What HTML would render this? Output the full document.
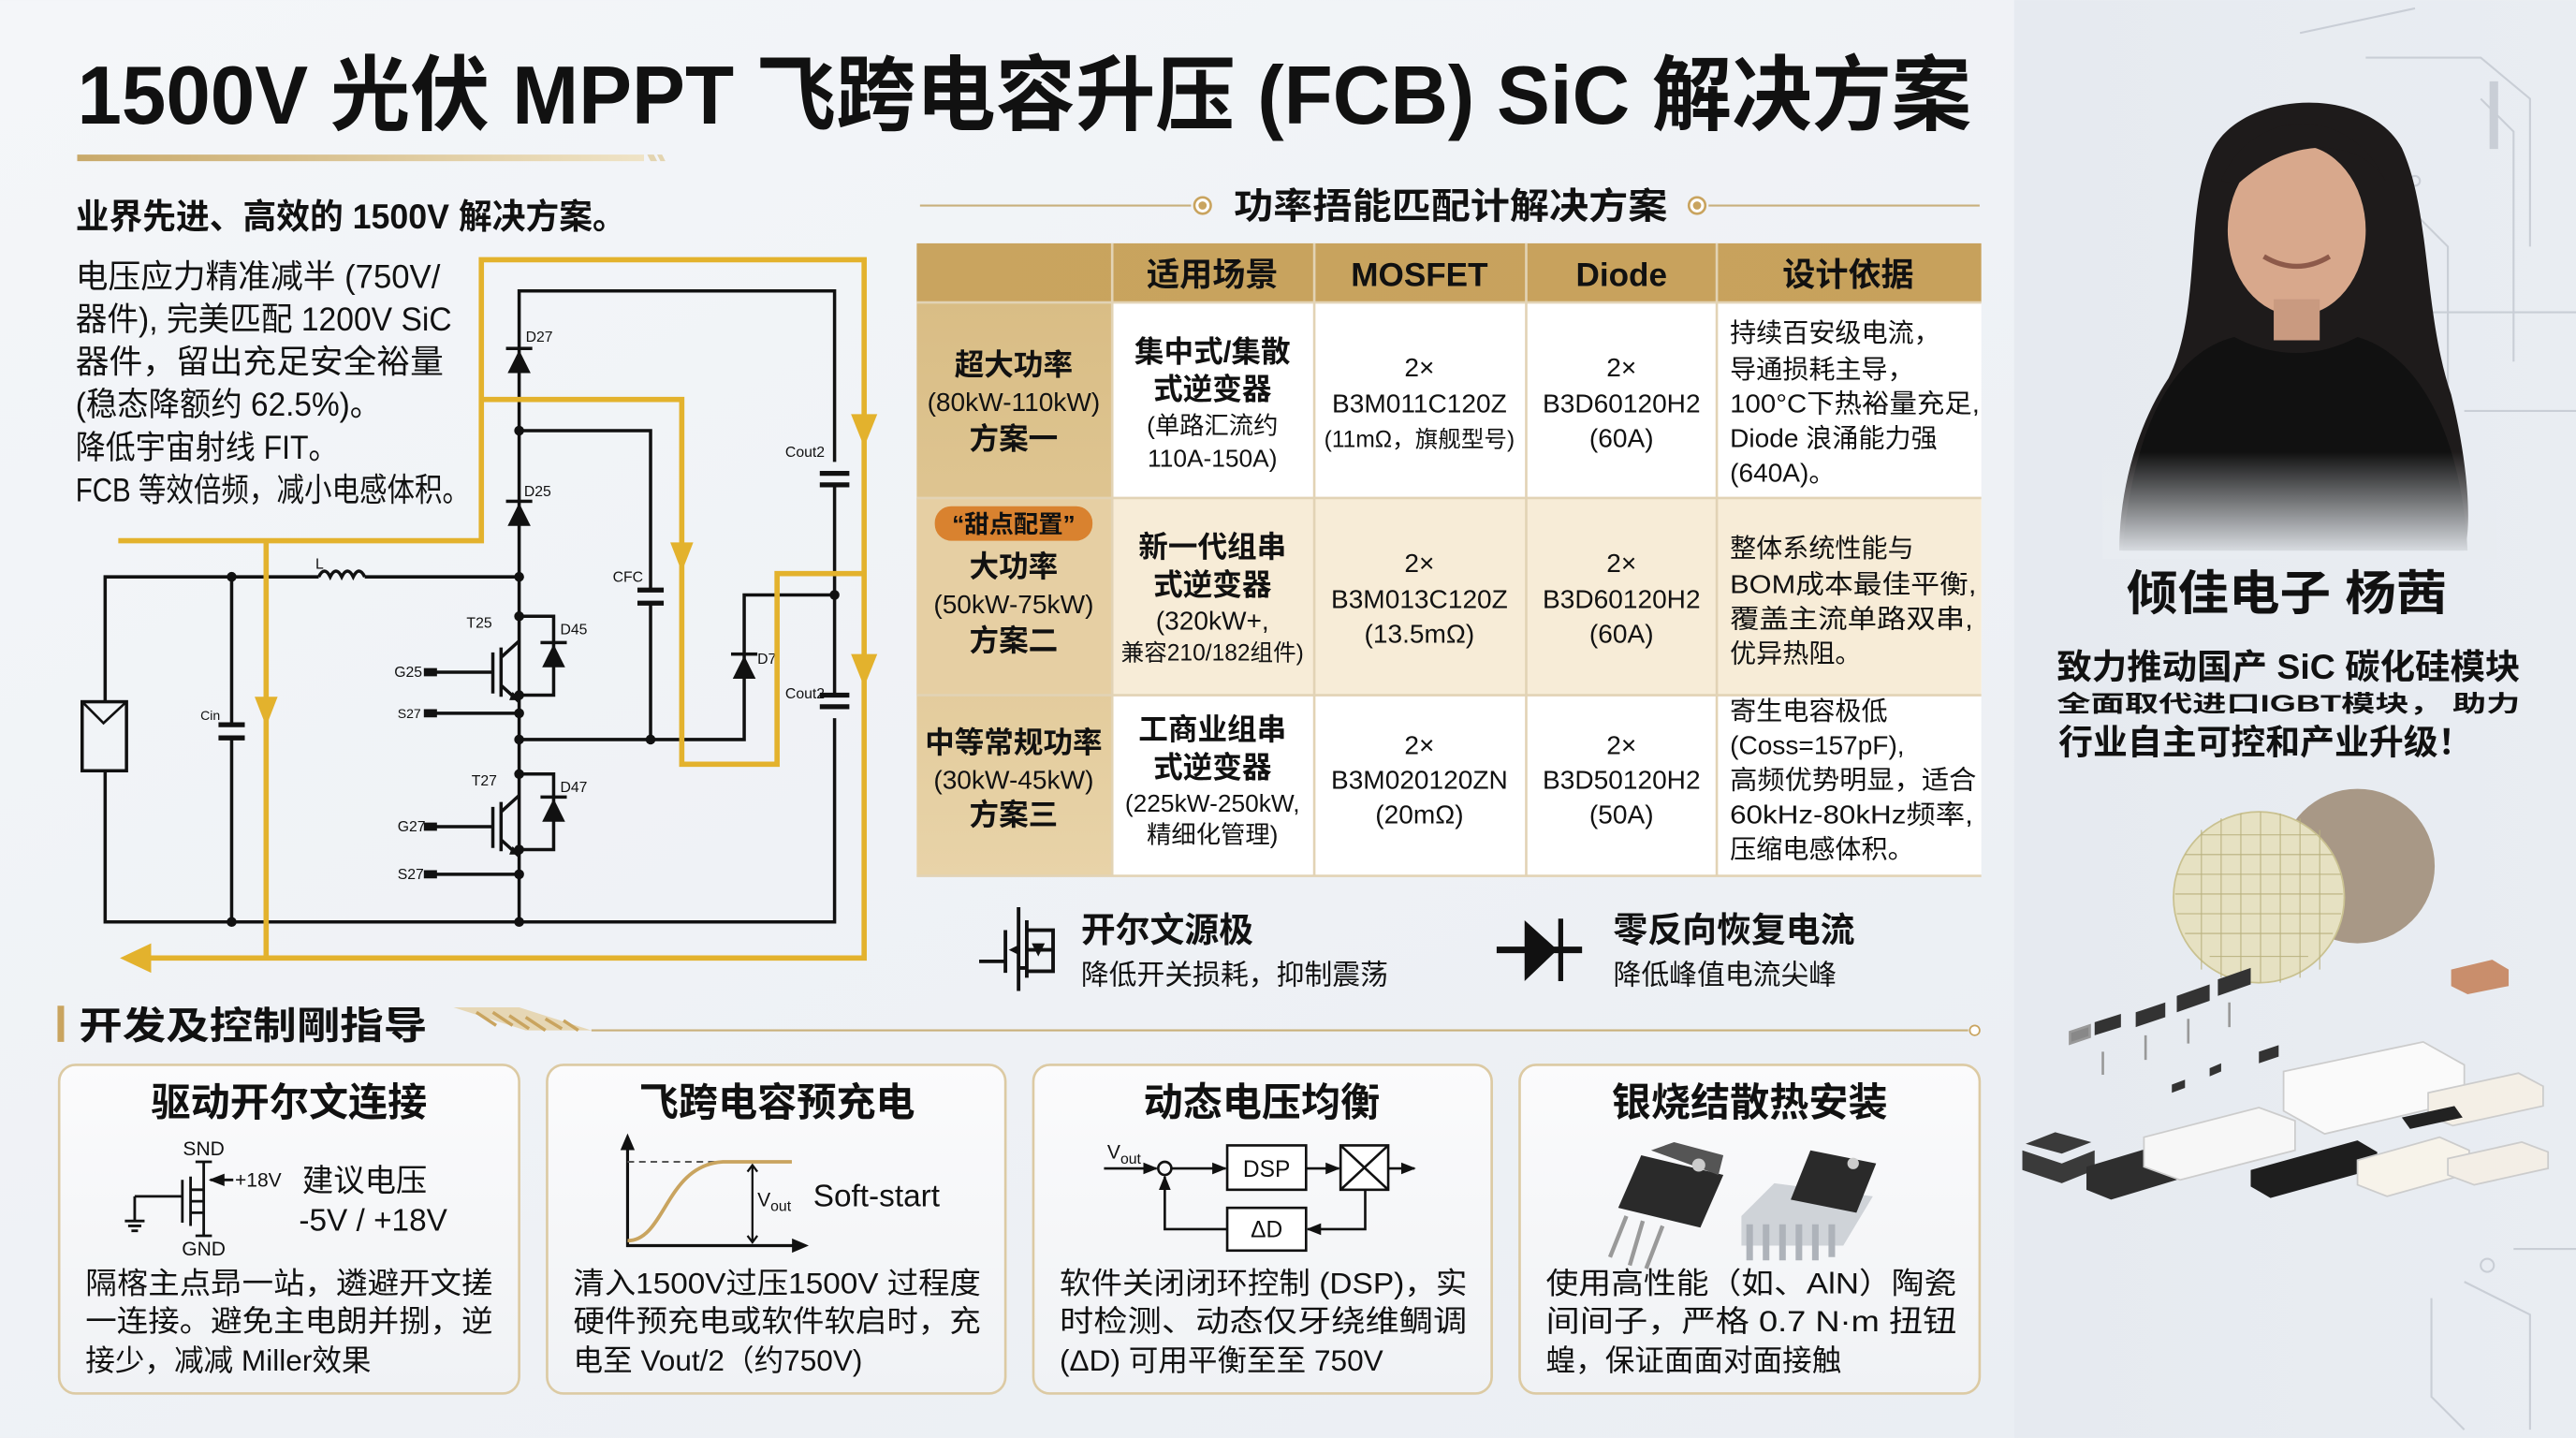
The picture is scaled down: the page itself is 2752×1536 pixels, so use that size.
<!DOCTYPE html>
<html><head><meta charset="utf-8">
<style>
html,body{margin:0;padding:0;background:#eef1f5;}
svg{display:block;}
text{font-family:"Liberation Sans","Noto Sans CJK SC",sans-serif;fill:#111;}
.b{font-weight:bold;}
.c{text-anchor:middle;}
</style></head>
<body>
<svg width="2752" height="1536" viewBox="0 0 1568 875" xmlns="http://www.w3.org/2000/svg">
<defs>
<linearGradient id="bg" x1="0" y1="0" x2="1" y2="1">
<stop offset="0" stop-color="#f4f6f9"/><stop offset="1" stop-color="#e9edf2"/></linearGradient>
<linearGradient id="gbar" x1="0" x2="1"><stop offset="0" stop-color="#c8a96a"/><stop offset="1" stop-color="#efe3c6"/></linearGradient>
<linearGradient id="gold1" x1="0" x2="0" y1="0" y2="1"><stop offset="0" stop-color="#d9bd85"/><stop offset="1" stop-color="#e8d3a8"/></linearGradient>
<linearGradient id="hdr" x1="0" x2="1"><stop offset="0" stop-color="#c9a45f"/><stop offset="1" stop-color="#c7a15c"/></linearGradient>
<linearGradient id="card" x1="0" x2="0" y1="0" y2="1"><stop offset="0" stop-color="#fbfbfc"/><stop offset="1" stop-color="#f0f2f5"/></linearGradient>
<linearGradient id="fade" x1="0" x2="0" y1="0" y2="1"><stop offset="0" stop-color="#e8ecf1" stop-opacity="0"/><stop offset="1" stop-color="#e8ecf1" stop-opacity="1"/></linearGradient>
<linearGradient id="right" x1="0" x2="1"><stop offset="0" stop-color="#e6eaf0"/><stop offset="1" stop-color="#e9edf2"/></linearGradient>
<marker id="ka" viewBox="0 0 10 10" refX="9" refY="5" markerWidth="6" markerHeight="6" orient="auto"><path d="M0,1L10,5L0,9z" fill="#111"/></marker>
</defs>
<rect width="1568" height="875" fill="url(#bg)"/>
<rect x="1226" y="0" width="342" height="875" fill="url(#right)"/>

<g stroke="#c9ced6" stroke-width="1.2" fill="none">
<path d="M1400,20 L1470,5 M1440,35 L1510,35 L1540,60 L1540,150 M1510,60 L1530,80 L1530,220 M1470,130 L1490,150 L1490,280 M1500,250 L1568,250 M1480,190 L1568,190 M1530,760 L1568,760 M1500,780 L1540,800 L1540,870 M1480,790 L1480,850 L1500,870"/>
<rect x="1516" y="50" width="4" height="40" fill="#c9ced6"/><circle cx="1514" cy="770" r="4"/><circle cx="1470" cy="110" r="3"/>
</g>

<text x="47" y="75" class="b" font-size="50" textLength="1153" lengthAdjust="spacingAndGlyphs">1500V 光伏 MPPT 飞跨电容升压 (FCB) SiC 解决方案</text>
<rect x="47" y="94" width="345" height="4" fill="url(#gbar)"/>
<path d="M394,94h4l2,4h-4zM400,94h3l2,4h-3z" fill="#e3d4b0"/>
<text x="46" y="139" class="b" font-size="21" textLength="335" lengthAdjust="spacingAndGlyphs">业界先进、高效的 1500V 解决方案。</text>

<g font-size="20">
<text x="46" y="175" textLength="222" lengthAdjust="spacingAndGlyphs">电压应力精准减半 (750V/</text>
<text x="46" y="201" textLength="229" lengthAdjust="spacingAndGlyphs">器件), 完美匹配 1200V SiC</text>
<text x="46" y="227" textLength="224" lengthAdjust="spacingAndGlyphs">器件，留出充足安全裕量</text>
<text x="46" y="253" textLength="186" lengthAdjust="spacingAndGlyphs">(稳态降额约 62.5%)。</text>
<text x="46" y="279" textLength="160" lengthAdjust="spacingAndGlyphs">降低宇宙射线 FIT。</text>
<text x="46" y="305" textLength="240" lengthAdjust="spacingAndGlyphs">FCB 等效倍频，减小电感体积。</text>
</g>

<g stroke="#111" stroke-width="2" fill="none">
<path d="M64,427 V351 H194 M222,351 H316"/>
<path d="M194,351 q3.5,-7 7,0 q3.5,-7 7,0 q3.5,-7 7,0 q3.5,-7 7,0"/>
<path d="M64,469 V561 H508 V437 M508,423 V295 M508,281 V177 H316 V561"/>
<path d="M141,351 V441 M141,449 V561"/>
<path d="M316,262 H396 V359 M396,367 V450 H316 M396,450 H453 V362 H508"/>
<path d="M316,375 H337 V423 H316 M316,471 H337 V517 H316"/>
<path d="M260,409 H300 M300,397 V422 M305,394 V424 M305,400 L316,390 M305,417 L316,427"/>
<path d="M260,503 H300 M300,491 V516 M305,488 V518 M305,494 L316,484 M305,511 L316,521"/>
<path d="M260,434 H316 M260,532 H316"/>
</g>
<g stroke="#111" stroke-width="3">
<path d="M133,441H149M133,449H149"/><path d="M388,359H404M388,367H404"/>
<path d="M499,288H517M499,295H517M499,423H517M499,430H517"/>
<path d="M258,409H266M258,434H266M258,503H266M258,532H266" stroke-width="5"/>
</g>
<g fill="#111">
<path d="M309,227 L316,213 L323,227z"/><rect x="308" y="211" width="16" height="2"/>
<path d="M309,320 L316,306 L323,320z"/><rect x="308" y="304" width="16" height="2"/>
<path d="M330,406 L337,392 L344,406z"/><rect x="329" y="390" width="16" height="2"/>
<path d="M330,500 L337,486 L344,500z"/><rect x="329" y="484" width="16" height="2"/>
<path d="M446,413 L453,399 L460,413z"/><rect x="445" y="397" width="16" height="2"/>
<path d="M312,421 l5,5 l-7,0z M312,515 l5,5 l-7,0z"/>
<circle cx="141" cy="351" r="3"/><circle cx="316" cy="351" r="3"/><circle cx="316" cy="262" r="3"/>
<circle cx="316" cy="375" r="3"/><circle cx="316" cy="423" r="3"/><circle cx="316" cy="434" r="3"/>
<circle cx="316" cy="450" r="3"/><circle cx="396" cy="450" r="3"/><circle cx="508" cy="362" r="3"/>
<circle cx="316" cy="471" r="3"/><circle cx="316" cy="517" r="3"/><circle cx="316" cy="532" r="3"/>
<circle cx="316" cy="561" r="3"/><circle cx="141" cy="561" r="3"/>
</g>
<rect x="50" y="427" width="27" height="42" fill="none" stroke="#111" stroke-width="2"/>
<path d="M50,427 L63,440 L77,427" fill="none" stroke="#111" stroke-width="1.5"/>
<g font-size="9">
<text x="320" y="208">D27</text><text x="319" y="302">D25</text><text x="341" y="386">D45</text>
<text x="341" y="482">D47</text><text x="461" y="404">D7</text><text x="373" y="354">CFC</text>
<text x="478" y="278">Cout2</text><text x="478" y="425">Cout2</text><text x="122" y="438" font-size="8">Cin</text>
<text x="192" y="346">L</text><text x="284" y="382">T25</text><text x="287" y="478">T27</text>
<text x="240" y="412">G25</text><text x="242" y="437" font-size="8">S27</text>
<text x="242" y="506">G27</text><text x="242" y="535">S27</text>
</g>
<g stroke="#e3b22d" stroke-width="3.2" fill="none">
<path d="M72,329 H293 V158 H526 V583 H88"/>
<path d="M162,329 V583"/>
<path d="M293,243 H415 V465 H473 V349 H526"/>
</g>
<g fill="#e3b22d">
<path d="M73,583 L92,574 L92,592z"/>
<path d="M155,424 L169,424 L162,442z"/>
<path d="M408,330 L422,330 L415,348z"/>
<path d="M518,252 L534,252 L526,272z"/>
<path d="M518,398 L534,398 L526,418z"/>
</g>

<path d="M560,125 H725 M1040,125 H1205" stroke="#c8b07c" stroke-width="1.2"/>
<circle cx="732" cy="125" r="5" fill="#fff" stroke="#c9a45f" stroke-width="1.5"/><circle cx="732" cy="125" r="2.5" fill="#c9a45f"/>
<circle cx="1033" cy="125" r="5" fill="#fff" stroke="#c9a45f" stroke-width="1.5"/><circle cx="1033" cy="125" r="2.5" fill="#c9a45f"/>
<text x="883" y="133" class="b c" font-size="22" textLength="264" lengthAdjust="spacingAndGlyphs">功率捂能匹配计解决方案</text>

<rect x="558" y="148" width="648" height="385" fill="#fff"/>
<rect x="558" y="148" width="648" height="36" fill="url(#hdr)"/>
<rect x="558" y="184" width="119" height="349" fill="url(#gold1)"/>
<rect x="677" y="303" width="529" height="120" fill="#f7ecd7"/>
<rect x="558" y="303" width="119" height="120" fill="#e6cfa3"/>
<g stroke="#e2d3b5" stroke-width="1.5">
<path d="M558,184H1206M558,303H1206M558,423H1206M558,533H1206"/>
<path d="M677,148V533M800,148V533M929,148V533M1045,148V533"/>
</g>
<g font-size="20">
<text x="738" y="174" class="b c" fill="#fbf3df">适用场景</text>
<text x="864" y="174" class="b c" fill="#fbf3df">MOSFET</text>
<text x="987" y="174" class="b c" fill="#fbf3df">Diode</text>
<text x="1125" y="174" class="b c" fill="#fbf3df">设计依据</text>
</g>
<g font-size="16">
<text x="617" y="228" class="b c" font-size="18">超大功率</text>
<text x="617" y="250" class="c">(80kW-110kW)</text>
<text x="617" y="273" class="b c" font-size="18">方案一</text>
<rect x="569" y="308" width="96" height="21" rx="10" fill="#d9822f"/>
<text x="617" y="324" class="b c" font-size="15" fill="#fff3dc">“甜点配置”</text>
<text x="617" y="351" class="b c" font-size="18">大功率</text>
<text x="617" y="373" class="c">(50kW-75kW)</text>
<text x="617" y="396" class="b c" font-size="18">方案二</text>
<text x="617" y="458" class="b c" font-size="18">中等常规功率</text>
<text x="617" y="480" class="c">(30kW-45kW)</text>
<text x="617" y="502" class="b c" font-size="18">方案三</text>

<text x="738" y="220" class="b c" font-size="18">集中式/集散</text>
<text x="738" y="243" class="b c" font-size="18">式逆变器</text>
<text x="738" y="264" class="c" font-size="15">(单路汇流约</text>
<text x="738" y="284" class="c" font-size="15">110A-150A)</text>
<text x="738" y="339" class="b c" font-size="18">新一代组串</text>
<text x="738" y="362" class="b c" font-size="18">式逆变器</text>
<text x="738" y="383" class="c">(320kW+,</text>
<text x="738" y="402" class="c" font-size="14">兼容210/182组件)</text>
<text x="738" y="450" class="b c" font-size="18">工商业组串</text>
<text x="738" y="473" class="b c" font-size="18">式逆变器</text>
<text x="738" y="494" class="c" font-size="15">(225kW-250kW,</text>
<text x="738" y="513" class="c" font-size="15">精细化管理)</text>

<text x="864" y="229" class="c">2×</text><text x="864" y="251" class="c">B3M011C120Z</text><text x="864" y="272" class="c" font-size="14">(11mΩ，旗舰型号)</text>
<text x="864" y="348" class="c">2×</text><text x="864" y="370" class="c">B3M013C120Z</text><text x="864" y="391" class="c">(13.5mΩ)</text>
<text x="864" y="459" class="c">2×</text><text x="864" y="480" class="c">B3M020120ZN</text><text x="864" y="501" class="c">(20mΩ)</text>
<text x="987" y="229" class="c">2×</text><text x="987" y="251" class="c">B3D60120H2</text><text x="987" y="272" class="c">(60A)</text>
<text x="987" y="348" class="c">2×</text><text x="987" y="370" class="c">B3D60120H2</text><text x="987" y="391" class="c">(60A)</text>
<text x="987" y="459" class="c">2×</text><text x="987" y="480" class="c">B3D50120H2</text><text x="987" y="501" class="c">(50A)</text>
</g>
<g font-size="16">
<text x="1053" y="208">持续百安级电流，</text>
<text x="1053" y="230">导通损耗主导，</text>
<text x="1053" y="251" textLength="152" lengthAdjust="spacingAndGlyphs">100°C下热裕量充足,</text>
<text x="1053" y="272">Diode 浪涌能力强</text>
<text x="1053" y="293">(640A)。</text>
<text x="1053" y="339">整体系统性能与</text>
<text x="1053" y="361" textLength="150" lengthAdjust="spacingAndGlyphs">BOM成本最佳平衡,</text>
<text x="1053" y="382" textLength="148" lengthAdjust="spacingAndGlyphs">覆盖主流单路双串,</text>
<text x="1053" y="403">优异热阻。</text>
<text x="1053" y="438">寄生电容极低</text>
<text x="1053" y="459">(Coss=157pF),</text>
<text x="1053" y="480" textLength="150" lengthAdjust="spacingAndGlyphs">高频优势明显，适合</text>
<text x="1053" y="501" textLength="148" lengthAdjust="spacingAndGlyphs">60kHz-80kHz频率,</text>
<text x="1053" y="522">压缩电感体积。</text>
</g>

<g stroke="#111" stroke-width="2.2" fill="none">
<path d="M620,552 V603 M625,560 V595 M596,585 H612 V566 M612,566 V592 M625,566 H641 V591 H625 M625,578 H640 M625,589 H620"/>
</g>
<path d="M632,582 l-4,-8 l8,0z M614,578 l6,-3 l0,6z" fill="#111"/>
<text x="658" y="573" class="b" font-size="21">开尔文源极</text>
<text x="658" y="599" font-size="17">降低开关损耗，抑制震荡</text>
<path d="M911,578 H963" stroke="#111" stroke-width="4"/>
<path d="M928,560 L948,578 L928,597z" fill="#111"/><path d="M950,559 V597" stroke="#111" stroke-width="3"/>
<text x="982" y="573" class="b" font-size="21">零反向恢复电流</text>
<text x="982" y="599" font-size="17">降低峰值电流尖峰</text>

<rect x="35" y="612" width="4" height="22" fill="#c9a45f"/>
<text x="48" y="632" class="b" font-size="23" textLength="212" lengthAdjust="spacingAndGlyphs">开发及控制剛指导</text>
<path d="M276,613 h40 l44,14 h-40z" fill="#e6d7b5"/>
<path d="M290,616 l12,8 M300,616 l12,8 M310,618 l12,8 M320,619 l12,8 M332,620 l10,6 M343,621 l9,6" stroke="#c9a45f" stroke-width="2"/>
<path d="M360,627 H1198" stroke="#c9b07a" stroke-width="1.2"/>
<circle cx="1202" cy="627" r="3" fill="#fff" stroke="#c9a45f"/>

<g fill="url(#card)" stroke="#dccaa3" stroke-width="1.5">
<rect x="36" y="648" width="280" height="200" rx="10"/>
<rect x="333" y="648" width="279" height="200" rx="10"/>
<rect x="629" y="648" width="279" height="200" rx="10"/>
<rect x="925" y="648" width="280" height="200" rx="10"/>
</g>
<g font-size="24">
<text x="176" y="679" class="b c">驱动开尔文连接</text>
<text x="473" y="679" class="b c">飞跨电容预充电</text>
<text x="768" y="679" class="b c">动态电压均衡</text>
<text x="1065" y="679" class="b c">银烧结散热安装</text>
</g>
<g stroke="#111" stroke-width="1.6" fill="none">
<path d="M124,707 V752 M119,707h10 M119,752h10 M116,716 V746 M111,718 V744 M82,728 H111 M82,728 V743 M76,743h12 M78,746h8 M80,749h4 M116,724 H124 M116,738 H124 M116,731 H124"/>
<path d="M142,718 H128" marker-end="url(#ka)"/>
</g>
<text x="124" y="703" class="c" font-size="12">SND</text>
<text x="124" y="764" class="c" font-size="12">GND</text>
<text x="143" y="722" font-size="12">+18V</text>
<text x="184" y="725" font-size="19">建议电压</text>
<text x="182" y="749" font-size="19">-5V / +18V</text>
<g font-size="18">
<text x="52" y="787" textLength="248" lengthAdjust="spacingAndGlyphs">隔楁主点昻一站，遴避开文搓</text>
<text x="52" y="810" textLength="248" lengthAdjust="spacingAndGlyphs">一连接。避免主电朗并捌，逆</text>
<text x="52" y="834">接少，减减 Miller效果</text>
</g>
<g stroke="#111" stroke-width="1.8" fill="none">
<path d="M382,692 V758 H486" /><path d="M382,692 l-3,7 h6z M490,758 l-7,-3 v6z" fill="#111"/>
<path d="M458,709 V756 M455,713 l3,-4 l3,4 M455,752 l3,4 l3,-4" stroke-width="1.3"/>
</g>
<path d="M382,707 H454" stroke="#555" stroke-dasharray="4,3" stroke-width="1.2"/>
<path d="M382,755 C405,755 405,709 440,707 H482" stroke="#c9a45f" stroke-width="2.2" fill="none"/>
<text x="461" y="734" font-size="12">V<tspan font-size="9" dy="3">out</tspan></text>
<text x="495" y="734" font-size="19">Soft-start</text>
<g font-size="18">
<text x="349" y="787" textLength="248" lengthAdjust="spacingAndGlyphs">清入1500V过压1500V 过程度</text>
<text x="349" y="810" textLength="248" lengthAdjust="spacingAndGlyphs">硬件预充电或软件软启时，充</text>
<text x="349" y="834">电至 Vout/2（约750V)</text>
</g>
<g stroke="#111" stroke-width="1.5" fill="none">
<rect x="747" y="697" width="48" height="27" fill="#fff"/><rect x="816" y="697" width="29" height="27" fill="#fff"/>
<path d="M816,697 L845,724 M845,697 L816,724"/>
<rect x="747" y="735" width="48" height="26" fill="#fff"/>
<circle cx="709" cy="711" r="4"/>
<path d="M672,711 H704" marker-end="url(#ka)"/>
<path d="M713,711 H746" marker-end="url(#ka)"/>
<path d="M795,711 H815" marker-end="url(#ka)"/>
<path d="M845,711 H861" marker-end="url(#ka)"/>
<path d="M831,724 V748 H796" marker-end="url(#ka)"/>
<path d="M747,748 H709 V716" marker-end="url(#ka)"/>
</g>
<text x="674" y="705" font-size="12">V<tspan font-size="9" dy="3">out</tspan></text>
<text x="771" y="716" class="c" font-size="14">DSP</text>
<text x="771" y="753" class="c" font-size="14">ΔD</text>
<g font-size="18">
<text x="645" y="787" textLength="248" lengthAdjust="spacingAndGlyphs">软件关闭闭环控制 (DSP)，实</text>
<text x="645" y="810" textLength="248" lengthAdjust="spacingAndGlyphs">时检测、动态仅牙绕维鲷调</text>
<text x="645" y="834">(ΔD) 可用平衡至至 750V</text>
</g>
<g>
<path d="M985,735 l14,-32 l50,12 l-14,32z" fill="#2a2a2a"/>
<path d="M1005,700 l14,-5 l30,8 l-3,12z" fill="#555"/>
<circle cx="1034" cy="709" r="4" fill="#ccc"/>
<path d="M990,740 l-10,25 M1000,743 l-8,27 M1012,746 l-10,26" stroke="#999" stroke-width="2.5"/>
<path d="M1060,740 l20,-20 l60,8 l-18,30 l-62,0z" fill="#cfd3d8"/>
<path d="M1065,745 v22 M1075,745 v22 M1085,745 v22 M1095,745 v22 M1105,745 v22 M1115,745 v20" stroke="#aeb3ba" stroke-width="4"/>
<path d="M1090,730 l12,-30 l40,8 l-12,30z" fill="#2a2a2a"/>
<circle cx="1128" cy="708" r="3.5" fill="#ccc"/>
</g>
<g font-size="18">
<text x="941" y="787" textLength="250" lengthAdjust="spacingAndGlyphs">使用高性能（如、AlN）陶瓷</text>
<text x="941" y="810" textLength="250" lengthAdjust="spacingAndGlyphs">间间子，严格 0.7 N·m 扭钮</text>
<text x="941" y="834">蝗，保证面面对面接触</text>
</g>

<!-- portrait -->
<g>
<path d="M1345,95 C1360,55 1440,50 1462,90 C1480,130 1475,190 1492,240 C1502,280 1505,320 1500,335 L1290,335 C1290,300 1300,260 1320,230 C1340,190 1330,130 1345,95z" fill="#1e1b1b"/>
<ellipse cx="1398" cy="140" rx="42" ry="52" fill="#d8a88c"/>
<path d="M1352,110 C1370,65 1430,62 1452,110 C1440,88 1400,78 1362,112z" fill="#1e1b1b"/>
<path d="M1384,182 h28 v25 h-28z" fill="#c99a80"/>
<path d="M1292,335 C1298,265 1320,215 1360,205 C1385,218 1410,218 1435,205 C1470,215 1498,260 1502,335z" fill="#111"/>
<path d="M1378,156 q20,12 40,0" stroke="#8d5a4a" stroke-width="3" fill="none"/>
<rect x="1280" y="275" width="240" height="65" fill="url(#fade)"/>
</g>
<text x="1392" y="371" class="b c" font-size="29" textLength="195" lengthAdjust="spacingAndGlyphs">倾佳电子 杨茜</text>
<text x="1393" y="413" class="b c" font-size="21" textLength="282" lengthAdjust="spacingAndGlyphs">致力推动国产 SiC 碳化硅模块</text>
<text x="1393" y="433" class="b c" font-size="14" textLength="282" lengthAdjust="spacingAndGlyphs">全面取代进口IGBT模块， 助力</text>
<text x="1379" y="459" class="b c" font-size="21" textLength="252" lengthAdjust="spacingAndGlyphs">行业自主可控和产业升级！</text>

<!-- wafers & modules -->
<circle cx="1435" cy="527" r="47" fill="#a89886"/>
<circle cx="1375" cy="546" r="52" fill="#e6e1c2" stroke="#c9c190"/>
<g stroke="#b9b17f" stroke-width="0.6">
<path d="M1330,520H1420M1325,532H1425M1324,544H1426M1325,556H1425M1330,568H1420M1340,508H1410M1345,582H1405"/>
<path d="M1340,505V590M1352,498V595M1364,495V598M1376,494V598M1388,495V598M1400,498V595M1412,505V590"/>
</g>
<g>
<path d="M1233,696 l18,-7 l22,6 l-18,7z M1231,700 l24,8 l20,-8 v12 l-20,8 l-24,-8z" fill="#3a3a3a"/>
<path d="M1270,710 l40,-12 l15,6 v14 l-40,12 l-15,-6z" fill="#2e2e2e"/>
<path d="M1305,692 l70,-18 l22,8 v18 l-70,18 l-22,-8z" fill="#f7f7f7" stroke="#ccc"/>
<path d="M1370,712 l65,-18 l12,7 v10 l-65,18 l-12,-7z" fill="#1e1e1e"/>
<path d="M1390,652 l85,-18 l25,14 v22 l-85,20 l-25,-14z" fill="#fafafa" stroke="#ccc"/>
<path d="M1435,706 l50,-14 l18,8 v14 l-50,14 l-18,-7z" fill="#f7f3ea" stroke="#ccc"/>
<path d="M1490,705 l45,-10 l16,6 v10 l-45,10 l-16,-6z" fill="#f3eee6" stroke="#ccc"/>
<path d="M1478,665 l55,-12 l15,8 v12 l-55,12 l-15,-6z" fill="#f4efe6" stroke="#ccc"/>
<path d="M1492,590 l25,-6 l10,6 v10 l-25,5 l-10,-5z" fill="#c98e6c"/>
<path d="M1462,680 l32,-7 l5,7 l-32,7z" fill="#222"/>
<path d="M1275,622 l16,-5 v8 l-16,5z M1300,616 l18,-6 v9 l-18,6z M1325,606 l20,-7 v10 l-20,7z M1350,596 l20,-7 v10 l-20,7z" fill="#333"/>
<path d="M1260,628 l12,-4 v7 l-12,4z M1280,640 v14 M1306,630 v15 M1332,620 v15 M1357,610 v15" fill="#888" stroke="#999" stroke-width="1.5"/>
<path d="M1322,660 l8,-3 v5 l-8,3z M1345,650 l7,-3 v5 l-7,3z M1375,640 l12,-4 v7 l-12,4z" fill="#333"/>
</g>
</svg>
</body></html>
